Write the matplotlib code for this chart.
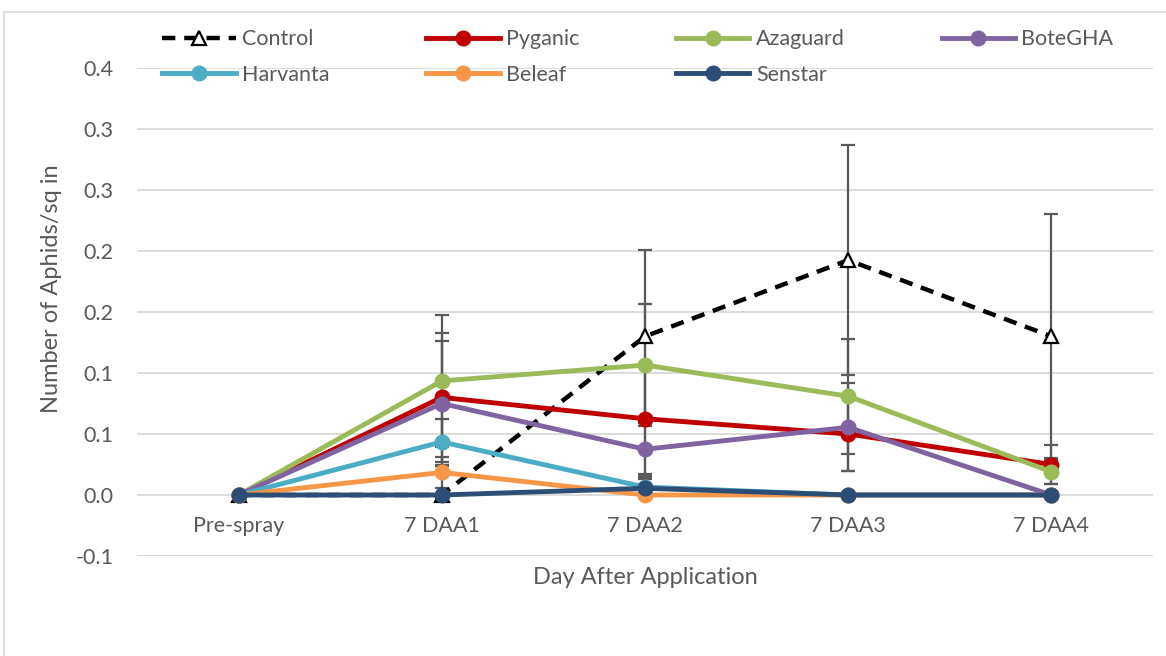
import numpy as np
import matplotlib
matplotlib.use("Agg")
import matplotlib.pyplot as plt
from matplotlib.patches import Rectangle
from matplotlib.ticker import FuncFormatter

# ==========================================================
# DATA
# ==========================================================

days = ["Pre-spray", "7 DAA1", "7 DAA2", "7 DAA3", "7 DAA4"]

control = [0, 0, 0.13, 0.1925, 0.13]
control_err = [0, 0, 0.071, 0.094, 0.10]

pyganic = [0, 0.080, 0.0625, 0.050, 0.025]
pyganic_err = [0, 0.053, 0.045, 0.030, 0.016]

azaguard = [0, 0.0935, 0.1065, 0.081, 0.019]
azaguard_err = [0, 0.054, 0.050, 0.047, 0.010]

botegha = [0, 0.075, 0.0375, 0.0555, 0]
botegha_err = [0, 0.051, 0.022, 0.036, 0]

harvanta = [0, 0.0435, 0.0065, 0, 0]
harvanta_err = [0, 0.019, 0.008, 0, 0]

beleaf = [0, 0.0185, 0, 0, 0]
beleaf_err = [0, 0.013, 0, 0, 0]

senstar = [0, 0, 0.0055, 0, 0]
senstar_err = [0, 0, 0.008, 0, 0]

treatments = [
    ("Pyganic", pyganic, pyganic_err, "#C00000"),
    ("Azaguard", azaguard, azaguard_err, "#9BBB59"),
    ("BoteGHA", botegha, botegha_err, "#8064A2"),
    ("Harvanta", harvanta, harvanta_err, "#4BACC6"),
    ("Beleaf", beleaf, beleaf_err, "#F79646"),
    ("Senstar", senstar, senstar_err, "#2C4D75"),
]

GRAY = "#595959"

plt.rcParams["font.family"] = ["Lato", "DejaVu Sans"]

# ==========================================================
# FIGURE
# ==========================================================

W, H = 1166, 656

fig = plt.figure(figsize=(W / 100, H / 100), dpi=100)

fig.patches.append(
    Rectangle(
        (4 / W, -0.1),
        1.2,
        (H - 12) / H + 0.1,
        transform=fig.transFigure,
        fill=False,
        edgecolor="#D9D9D9",
        linewidth=1.2
    )
)

ax = fig.add_axes([
    137 / W,
    (H - 556) / H,
    (1153 - 137) / W,
    (556 - 68) / H
])

x = np.arange(len(days))

# error bars sit under the lines
ax.errorbar(
    x, control, yerr=control_err,
    fmt="none", ecolor=GRAY, elinewidth=1.6,
    capsize=5, capthick=1.6, zorder=2
)

for name, vals, err, col in treatments:
    ax.errorbar(
        x, vals, yerr=err,
        fmt="none", ecolor=GRAY, elinewidth=1.6,
        capsize=5, capthick=1.6, zorder=2
    )

handles = {}

handles["Control"], = ax.plot(
    x, control,
    color="black", linestyle=(0, (3, 2)), linewidth=3.2,
    marker="^", markersize=9.5, markerfacecolor="white",
    markeredgecolor="black", markeredgewidth=1.6,
    label="Control", zorder=3
)

for i, (name, vals, err, col) in enumerate(treatments):
    handles[name], = ax.plot(
        x, vals,
        color=col, linewidth=3.5,
        marker="o", markersize=10.5,
        label=name, zorder=4 + i * 0.1
    )

# ==========================================================
# AXES
# ==========================================================

ax.set_xlim(-0.5, 4.5)
ax.set_ylim(-0.05, 0.35)

ax.set_yticks(np.arange(-0.05, 0.351, 0.05))


def excel_round(v, pos):
    s = -1 if v < 0 else 1
    r = s * np.floor(abs(v) * 10 + 0.5 + 1e-9) / 10
    return f"{r:.1f}"


ax.yaxis.set_major_formatter(FuncFormatter(excel_round))

ax.set_xticks(x)
ax.set_xticklabels(days)

ax.grid(axis="y", color="#D9D9D9", linewidth=1.3)
ax.set_axisbelow(True)

# category axis crosses at zero
ax.spines["bottom"].set_position(("data", 0))

for s in ax.spines.values():
    s.set_visible(False)

ax.tick_params(
    axis="both", length=0, labelsize=15.5, labelcolor=GRAY
)
ax.tick_params(axis="x", pad=15)
ax.tick_params(axis="y", pad=17)

fig.text(
    645 / W, 1 - 578 / H,
    "Day After Application",
    fontsize=17, color=GRAY, ha="center", va="center"
)

fig.text(
    52 / W, 1 - 289 / H,
    "Number of Aphids/sq in",
    fontsize=17, color=GRAY, ha="center", va="center",
    rotation=90
)

# ==========================================================
# LEGEND
# ==========================================================

# column-major fill -> row-major look
order = ["Control", "Harvanta", "Pyganic", "Beleaf",
         "Azaguard", "Senstar", "BoteGHA"]

fig.legend(
    [handles[k] for k in order],
    order,
    loc="upper left",
    bbox_to_anchor=(143 / W, (H - 10) / H),
    ncol=4,
    frameon=False,
    fontsize=15.5,
    labelcolor=GRAY,
    handlelength=3.4,
    handletextpad=0.3,
    columnspacing=4.5,
    labelspacing=0.72
)

fig.savefig("out.png", dpi=100)
